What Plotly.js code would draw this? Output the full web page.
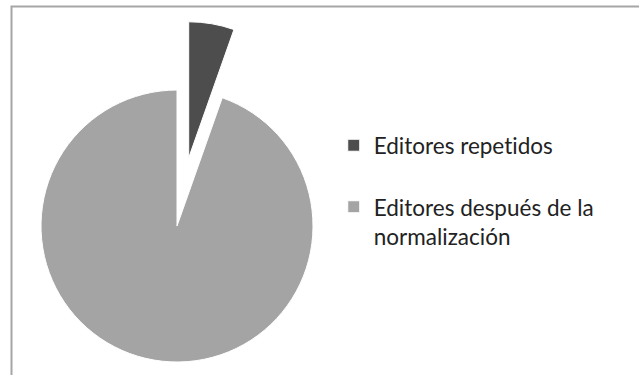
<!DOCTYPE html>
<html><head><meta charset="utf-8">
<script src="https://cdn.plot.ly/plotly-3.1.0.min.js"></script>
<style>html,body{margin:0;padding:0;background:#fff;} #chart{width:639px;height:375px;} text{font-variant-ligatures:none;font-feature-settings:"liga" 0,"clig" 0;}</style>
</head><body><div id="chart"></div>
<script>
const labels = ['Editores repetidos<br>&nbsp;', 'Editores después de la<br>normalización'];
const values = [5.4, 94.6];
const colors = ['#4d4d4d', '#a4a4a4'];
const pulls = [0.2545, 0.2545];

const trace = {
  type: 'pie',
  labels: labels,
  values: values,
  sort: false,
  direction: 'clockwise',
  rotation: 0,
  pull: pulls,
  textinfo: 'none',
  hoverinfo: 'label+percent',
  marker: {colors: colors, line: {color: '#ffffff', width: 1}},
  domain: {x: [0, 0.5723], y: [0.0333, 0.9432]},
  showlegend: true
};

const legendFont = {family: 'Lato, "Liberation Sans", sans-serif', size: 22.5, color: '#222222'};
const layout = {
  width: 639, height: 375,
  margin: {l: 0, r: 0, t: 0, b: 0},
  paper_bgcolor: '#ffffff',
  showlegend: true,
  legend: {x: 0.5223, y: 0.4917, xanchor: 'left', yanchor: 'middle', font: legendFont, valign: 'top', bgcolor: 'rgba(0,0,0,0)'},
  shapes: [{type: 'rect', xref: 'paper', yref: 'paper', x0: 11.5/639, x1: 1.02, y0: -0.02, y1: 1 - 6.5/375,
            line: {color: '#a6a6a6', width: 2}, fillcolor: 'rgba(0,0,0,0)', layer: 'above'}]
};
Plotly.newPlot('chart', [trace], layout, {displayModeBar: false, staticPlot: true});
</script></body></html>
